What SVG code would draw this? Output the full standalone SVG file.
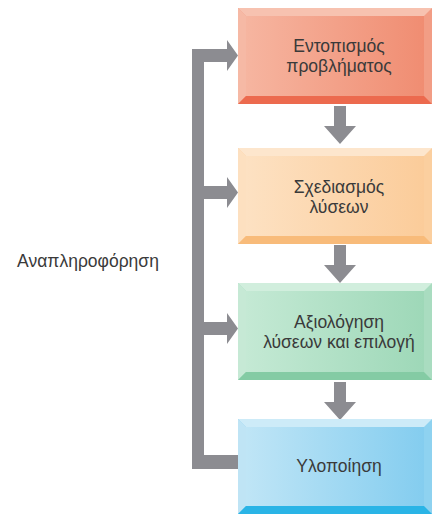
<svg xmlns="http://www.w3.org/2000/svg" width="432" height="514" viewBox="0 0 432 514">
<defs>
<linearGradient id="g1" x1="0" y1="0" x2="1" y2="0"><stop offset="0" stop-color="#f6b5a0"/><stop offset="1" stop-color="#f08d72"/></linearGradient>
<linearGradient id="g2" x1="0" y1="0" x2="1" y2="0"><stop offset="0" stop-color="#fde1c2"/><stop offset="1" stop-color="#fbcc9a"/></linearGradient>
<linearGradient id="g3" x1="0" y1="0" x2="1" y2="0"><stop offset="0" stop-color="#c4e9d4"/><stop offset="1" stop-color="#9ed8b8"/></linearGradient>
<linearGradient id="g4" x1="0" y1="0" x2="1" y2="0"><stop offset="0" stop-color="#bfe5f6"/><stop offset="1" stop-color="#84cdef"/></linearGradient>
<polygon id="down" points="-6,0 6,0 6,20 16,20 0,38 -16,20 -6,20" fill="#8c8c91"/>
</defs>
<style>
.t{font-family:"Liberation Sans","Open Sans",Arial,sans-serif;font-size:17.5px;fill:#3a3a3a;text-anchor:middle}
.g{fill:#8c8c91}
</style>
<rect width="432" height="514" fill="#fff"/>
<g id="connectors">
<path class="g" d="M192,49 H227 V40 L238,55.5 L227,71 V62 H204 V455 H238 V469 H192 Z"/>
<path class="g" d="M204,186 H227 V177 L238,192.5 L227,208 V199 H204 Z"/>
<path class="g" d="M204,322 H227 V313 L238,328.5 L227,344 V335 H204 Z"/>
<use href="#down" x="340" y="106"/>
<use href="#down" x="340" y="245"/>
<use href="#down" x="340" y="382"/>
</g>
<g id="n1">
<rect x="238" y="8" width="194" height="96" fill="#f29d85"/>
<polygon points="238,8 432,8 424,16 246,16" fill="#f7c2b0"/>
<polygon points="238,8 246,16 246,96 238,104" fill="#f6b9a5"/>
<polygon points="238,104 246,96 424,96 432,104" fill="#ec6a4e"/>
<rect x="246" y="16" width="178" height="80" fill="url(#g1)"/>
<text class="t" x="339" y="52">Εντοπισμός</text>
<text class="t" x="339" y="72">προβλήματος</text>
</g>
<g id="n2">
<rect x="238" y="148" width="194" height="96" fill="#fbcf9f"/>
<polygon points="238,148 432,148 424,156 246,156" fill="#fde6cd"/>
<polygon points="238,148 246,156 246,236 238,244" fill="#fde0c0"/>
<polygon points="238,244 246,236 424,236 432,244" fill="#f8bb7a"/>
<rect x="246" y="156" width="178" height="80" fill="url(#g2)"/>
<text class="t" x="339" y="193">Σχεδιασμός</text>
<text class="t" x="339" y="213">λύσεων</text>
</g>
<g id="n3">
<rect x="238" y="283" width="194" height="97" fill="#a9dcc0"/>
<polygon points="238,283 432,283 424,291 246,291" fill="#d1eedd"/>
<polygon points="238,283 246,291 246,372 238,380" fill="#c6e9d5"/>
<polygon points="238,380 246,372 424,372 432,380" fill="#84cba4"/>
<rect x="246" y="291" width="178" height="81" fill="url(#g3)"/>
<text class="t" x="339" y="328">Αξιολόγηση</text>
<text class="t" x="339" y="348">λύσεων και επιλογή</text>
</g>
<g id="n4">
<rect x="238" y="419" width="194" height="95" fill="#8ed2f0"/>
<polygon points="238,419 432,419 424,427 246,427" fill="#cdebf8"/>
<polygon points="238,419 246,427 246,506 238,514" fill="#bfe4f5"/>
<polygon points="238,514 246,506 424,506 432,514" fill="#2ab4e6"/>
<rect x="246" y="427" width="178" height="79" fill="url(#g4)"/>
<text class="t" x="339" y="472">Υλοποίηση</text>
</g>
<g id="label">
<text class="t" x="88" y="267">Αναπληροφόρηση</text>
</g>
</svg>
